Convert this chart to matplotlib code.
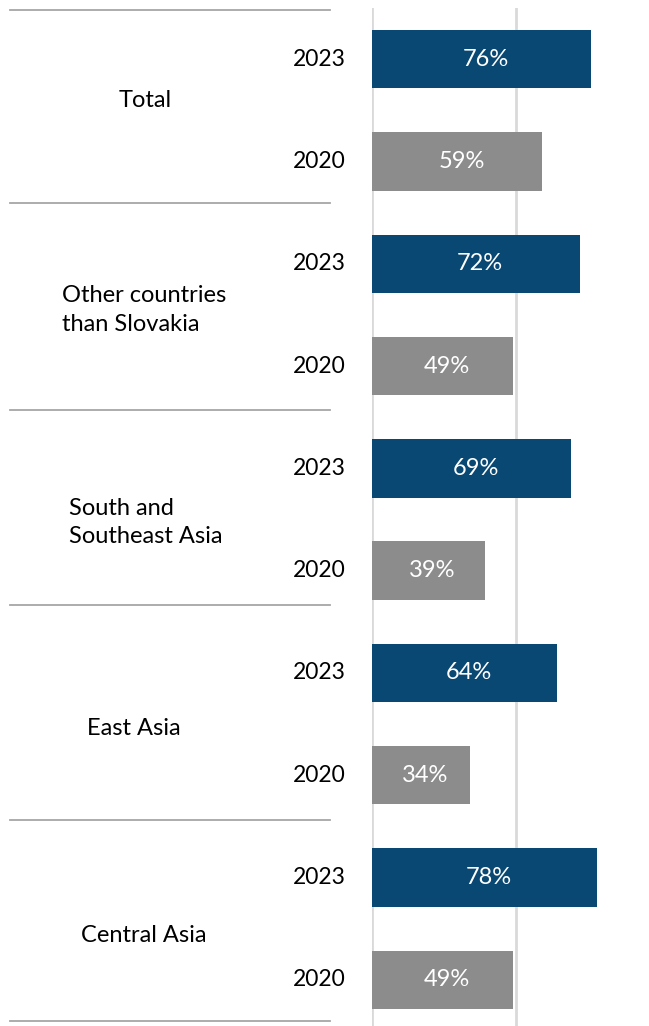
import matplotlib
matplotlib.use("Agg")
import matplotlib.pyplot as plt

groups = ["Total", "Other countries\nthan Slovakia", "South and\nSoutheast Asia", "East Asia", "Central Asia"]
years = ["2023", "2020"]
values_2023 = [76, 72, 69, 64, 78]
values_2020 = [59, 49, 39, 34, 49]

plt.rcParams['font.family'] = ['Lato', 'DejaVu Sans']

fig = plt.figure(figsize=(6.49, 10.26), dpi=100)
W, H = 649, 1026
ax = fig.add_axes([372 / W, -5 / H, (W - 372) / W, 1023 / H])

navy = "#0A4874"
gray = "#8C8C8C"

positions, vals, cols = [], [], []
for i in range(len(groups)):
    positions += [2 * i, 2 * i + 1]
    vals += [values_2023[i], values_2020[i]]
    cols += [navy, gray]

bars = ax.barh(positions, vals, height=0.57, color=cols, zorder=3)
for p, v in zip(positions, vals):
    ax.text(v / 2 + 1.5, p, f"{v}%", color="white", ha="center", va="center", fontsize=17, zorder=4)

ax.set_xlim(0, 96.0)
ax.set_ylim(9.5, -0.5)
ax.set_xticks([0, 50])
ax.xaxis.grid(True, color="#D9D9D9", linewidth=2, zorder=0)
ax.set_yticks([])
ax.tick_params(axis='x', length=0, labelbottom=False)
for s in ax.spines.values():
    s.set_visible(False)

trans = matplotlib.transforms.blended_transform_factory(fig.transFigure, ax.transData)
for p in positions:
    ax.text(346 / W, p, years[p % 2], transform=trans, ha="right", va="center", fontsize=16.5)

label_x = [145, 62, 69, 134, 144]
label_ha = ["center", "left", "left", "center", "center"]
label_dy = [-0.1, -0.05, 0.03, 0.04, 0.07]
for i, g in enumerate(groups):
    ax.text(label_x[i] / W, 2 * i + 0.5 + label_dy[i], g, transform=trans, ha=label_ha[i],
            va="center", fontsize=17, linespacing=1.45)

sep_dy = [0.02, -0.09, -0.07, -0.16, -0.06, -0.1]
for b in range(len(groups) + 1):
    y = 2 * b - 0.5 + sep_dy[b]
    ax.plot([10 / W, 330 / W], [y, y], transform=trans, color="#A6A6A6", linewidth=1.3, clip_on=False)

fig.savefig("out.png", dpi=100)
